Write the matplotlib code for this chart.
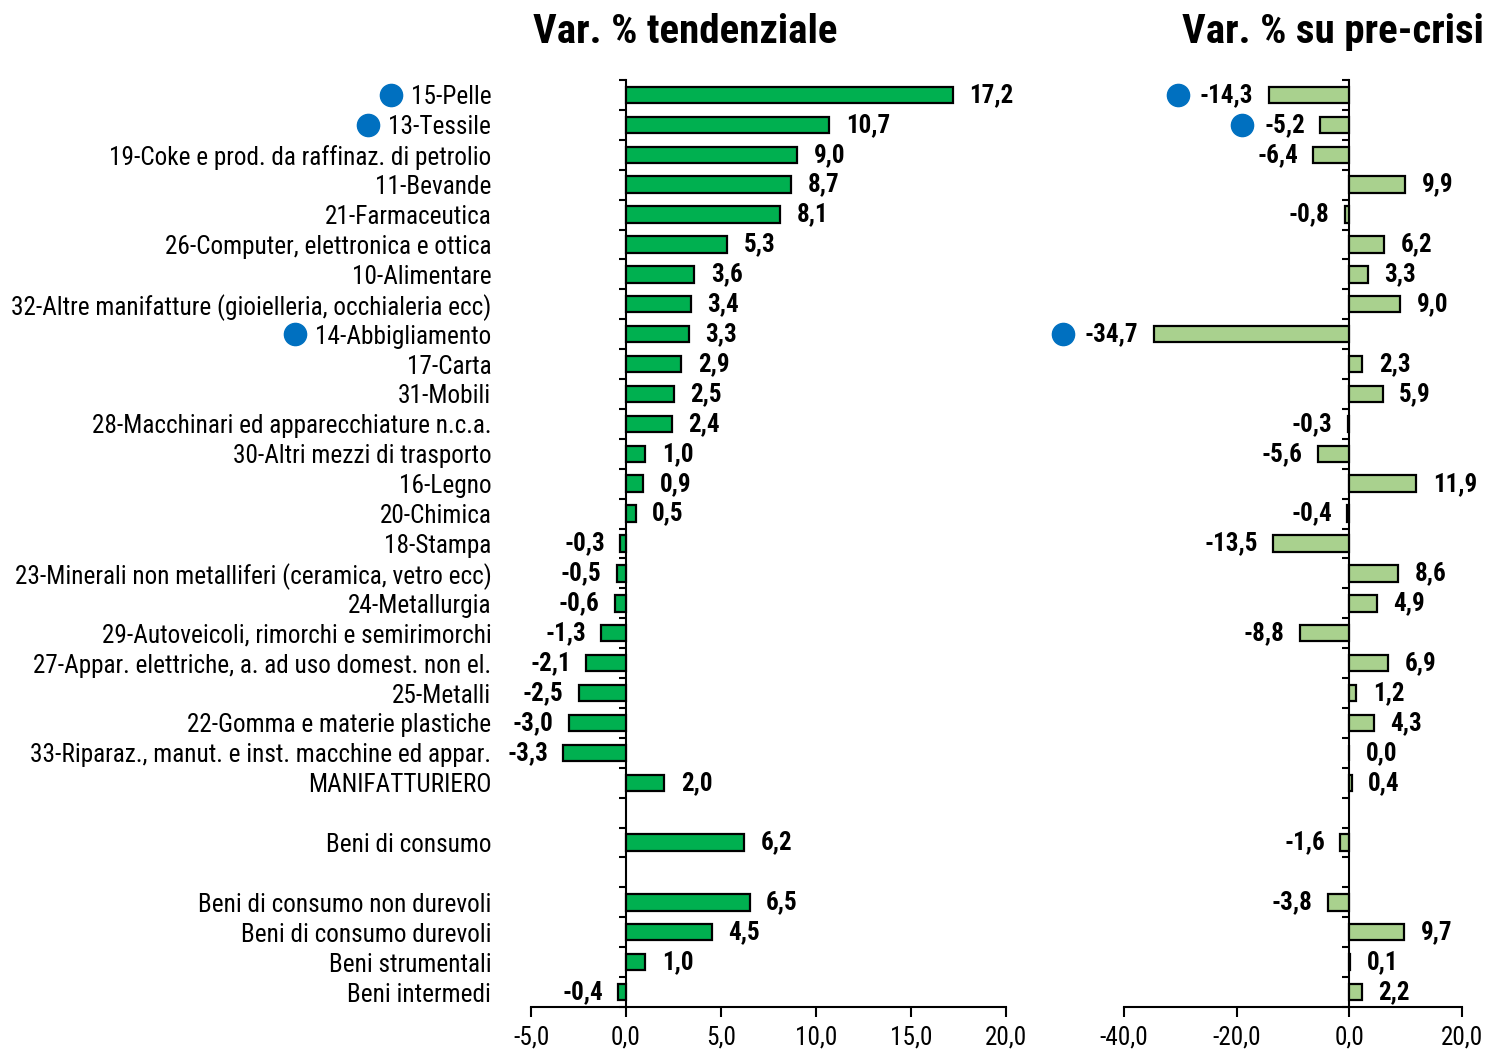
import matplotlib
matplotlib.use('Agg')
import matplotlib.pyplot as plt
from matplotlib.ticker import FuncFormatter, FixedLocator
from matplotlib import font_manager

# pick a narrow font if one is installed, otherwise a plain sans
names = set(f.name for f in font_manager.fontManager.ttflist)
narrow = None
for cand in ['Liberation Sans Narrow', 'Roboto Condensed', 'Open Sans Condensed', 'Noto Sans Condensed']:
    if cand in names:
        narrow = cand
        break
if narrow:
    plt.rcParams['font.family'] = [narrow, 'DejaVu Sans']
    lab_size, val_size, title_size = 18.2, 18, 29.5
else:
    plt.rcParams['font.family'] = ['Liberation Sans', 'DejaVu Sans']
    lab_size, val_size, title_size = 16.2, 16.5, 25

# sectors (Ateco)
sectors = ['15-Pelle', '13-Tessile', '19-Coke e prod. da raffinaz. di petrolio', '11-Bevande',
           '21-Farmaceutica', '26-Computer, elettronica e ottica', '10-Alimentare',
           '32-Altre manifatture (gioielleria, occhialeria ecc)', '14-Abbigliamento', '17-Carta',
           '31-Mobili', '28-Macchinari ed apparecchiature n.c.a.', '30-Altri mezzi di trasporto',
           '16-Legno', '20-Chimica', '18-Stampa', '23-Minerali non metalliferi (ceramica, vetro ecc)',
           '24-Metallurgia', '29-Autoveicoli, rimorchi e semirimorchi',
           '27-Appar. elettriche, a. ad uso domest. non el.', '25-Metalli',
           '22-Gomma e materie plastiche', '33-Riparaz., manut. e inst. macchine ed appar.',
           'MANIFATTURIERO']
sect_tend = [17.2, 10.7, 9.0, 8.7, 8.1, 5.3, 3.6, 3.4, 3.3, 2.9, 2.5, 2.4, 1.0, 0.9, 0.5,
             -0.3, -0.5, -0.6, -1.3, -2.1, -2.5, -3.0, -3.3, 2.0]
sect_pre = [-14.3, -5.2, -6.4, 9.9, -0.8, 6.2, 3.3, 9.0, -34.7, 2.3, 5.9, -0.3, -5.6, 11.9,
            -0.4, -13.5, 8.6, 4.9, -8.8, 6.9, 1.2, 4.3, 0.0, 0.4]

cons = ['Beni di consumo']
cons_tend = [6.2]
cons_pre = [-1.6]

groups = ['Beni di consumo non durevoli', 'Beni di consumo durevoli', 'Beni strumentali', 'Beni intermedi']
grp_tend = [6.5, 4.5, 1.0, -0.4]
grp_pre = [-3.8, 9.7, 0.1, 2.2]

highlight = ['15-Pelle', '13-Tessile', '14-Abbigliamento']

# rows with a blank line between blocks
labels = sectors + [''] + cons + [''] + groups
tend = sect_tend + [None] + cons_tend + [None] + grp_tend
pre = sect_pre + [None] + cons_pre + [None] + grp_pre
n = len(labels)
rows = list(range(n))

fmt = lambda v: f'{v:.1f}'.replace('.', ',')

fig = plt.figure(figsize=(14.85, 10.53), dpi=100)
ax1 = fig.add_axes([531 / 1485, 1 - 1007 / 1053, 475 / 1485, 927 / 1053])
ax2 = fig.add_axes([1124 / 1485, 1 - 1007 / 1053, 338 / 1485, 927 / 1053])


def draw_panel(ax, vals, color, xlim, xticks):
    ys = [r for r, v in zip(rows, vals) if v is not None]
    vs = [v for v in vals if v is not None]
    ax.barh(ys, vs, height=0.55, color=color, edgecolor='black', linewidth=1.6, zorder=3)
    texts = {}
    for y, v in zip(ys, vs):
        if v >= 0:
            t = ax.annotate(fmt(v), (v, y), xytext=(12, 0), textcoords='offset points',
                            ha='left', va='center', fontsize=val_size, fontweight='bold')
        else:
            t = ax.annotate(fmt(v), (v, y), xytext=(-11, 0), textcoords='offset points',
                            ha='right', va='center', fontsize=val_size, fontweight='bold')
        texts[y] = t
    ax.set_xlim(*xlim)
    ax.set_ylim(n - 0.5, -0.5)
    for s in ['top', 'right']:
        ax.spines[s].set_visible(False)
    ax.spines['left'].set_position(('data', 0))
    ax.spines['left'].set_linewidth(1.5)
    ax.spines['bottom'].set_linewidth(1.5)
    ax.set_xticks(xticks)
    ax.xaxis.set_major_formatter(FuncFormatter(lambda v, p: fmt(v)))
    ax.tick_params(axis='x', direction='out', length=7, width=1.5, labelsize=lab_size, pad=6)
    ax.yaxis.set_minor_locator(FixedLocator([r - 0.5 for r in rows] + [n - 0.5]))
    ax.tick_params(axis='y', which='minor', direction='out', length=5, width=1.5)
    ax.tick_params(axis='y', which='major', length=0)
    return texts


t1 = draw_panel(ax1, tend, '#00B050', (-5, 20), [-5, 0, 5, 10, 15, 20])
t2 = draw_panel(ax2, pre, '#A9D18E', (-40, 20), [-40, -20, 0, 20])

ax1.set_yticks(rows)
ax1.set_yticklabels(labels)
ax1.tick_params(axis='y', which='major', labelsize=lab_size, pad=97)
ax2.set_yticks([])
ax2.yaxis.set_minor_locator(FixedLocator([r - 0.5 for r in rows] + [n - 0.5]))

fig.text(685 / 1485, 1 - 32 / 1053, 'Var. % tendenziale', ha='center', va='center',
         fontsize=title_size, fontweight='bold')
fig.text(1484 / 1485, 1 - 32 / 1053, 'Var. % su pre-crisi', ha='right', va='center',
         fontsize=title_size, fontweight='bold')

# blue dots next to highlighted sectors
fig.canvas.draw()
ticklabels = ax1.get_yticklabels()
for name in highlight:
    i = labels.index(name)
    bb = ticklabels[i].get_window_extent()
    yc = (bb.y0 + bb.y1) / 2
    x, _ = ax1.transData.inverted().transform((bb.x0 - 20, yc))
    ax1.plot([x], [i], 'o', color='#0070C0', markersize=16, clip_on=False, zorder=5)
    bb2 = t2[i].get_window_extent()
    x2, _ = ax2.transData.inverted().transform((bb2.x0 - 22, yc))
    ax2.plot([x2], [i], 'o', color='#0070C0', markersize=16, clip_on=False, zorder=5)

fig.savefig('out.png', dpi=100)
